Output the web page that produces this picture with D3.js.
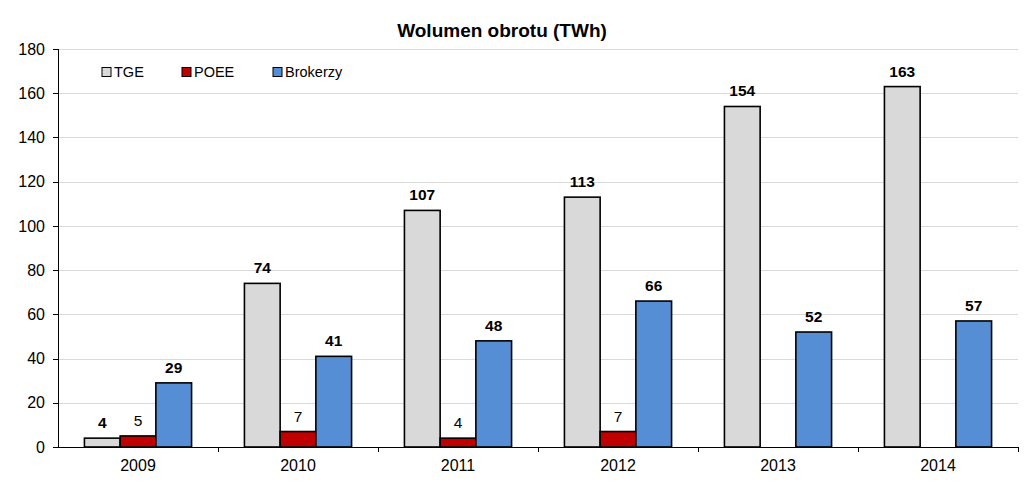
<!DOCTYPE html>
<meta charset="utf-8">
<style>
body{margin:0;background:#fff;}
text{font-family:"Liberation Sans",Arial,sans-serif;}
.grid line{stroke:#d9d9d9;stroke-width:1;}
.axis path,.axis line{stroke:#000;stroke-width:1;shape-rendering:crispEdges;}
.bar{stroke:#000;stroke-width:1.6px;}
.lbl{font-size:15.5px;text-anchor:middle;fill:#000;}
</style>
<body>
<script src="https://d3js.org/d3.v7.min.js"></script>
<script>

var years=["2009","2010","2011","2012","2013","2014"];
var series=["TGE","POEE","Brokerzy"];
var tge=[4,74,107,113,154,163];
var poee=[5,7,4,7,null,null];
var brokerzy=[29,41,48,66,52,57];
var yTicks=[0,20,40,60,80,100,120,140,160,180];
var colors=["#d9d9d9","#c00000","#558ed5"];
var boldLabel=[true,false,true];

var values=[tge,poee,brokerzy];
var W=1024,H=489;
var m={left:58,right:6,top:49,bottom:42};

var svg=d3.select("body").append("svg").attr("width",W).attr("height",H);

var x=d3.scaleBand().domain(years).range([m.left,W-m.right]).padding(0);
var xs=d3.scaleBand().domain(series).range([0,x.bandwidth()]).paddingInner(0).paddingOuter(0.74);
var y=d3.scaleLinear().domain([0,180]).range([H-m.bottom,m.top]);

svg.append("g").attr("class","grid")
  .selectAll("line").data(yTicks.slice(1)).join("line")
  .attr("x1",m.left).attr("x2",W-m.right)
  .attr("y1",d=>Math.round(y(d))+0.5).attr("y2",d=>Math.round(y(d))+0.5);

svg.append("text").attr("x",502).attr("y",37).attr("text-anchor","middle")
  .style("font-size","19px").style("font-weight","bold").text("Wolumen obrotu (TWh)");

var data=[];
years.forEach(function(yr,i){
  series.forEach(function(s,j){
    if(values[j][i]!=null) data.push({year:yr,s:s,j:j,v:values[j][i]});
  });
});

svg.append("g").selectAll("rect").data(data).join("rect").attr("class","bar")
  .attr("x",d=>x(d.year)+xs(d.s))
  .attr("width",xs.bandwidth())
  .attr("y",d=>y(d.v))
  .attr("height",d=>y(0)-y(d.v))
  .attr("fill",d=>colors[d.j]);

svg.append("g").selectAll("text").data(data).join("text").attr("class","lbl")
  .attr("x",d=>x(d.year)+xs(d.s)+xs.bandwidth()/2)
  .attr("y",d=>y(d.v)-10)
  .style("font-weight",d=>boldLabel[d.j]?"bold":"normal")
  .text(d=>d.v);

var ya=svg.append("g").attr("class","axis").attr("transform","translate("+m.left+",0)")
  .call(d3.axisLeft(y).tickValues(yTicks).tickSize(5).tickPadding(8));
ya.attr("font-size",null).attr("font-family",null);
ya.selectAll("text").style("font-size","16px").style("fill","#000");

var xa=svg.append("g").attr("class","axis").attr("transform","translate(0,"+y(0)+")")
  .call(d3.axisBottom(x).tickSize(0).tickPadding(13));
xa.attr("font-size",null).attr("font-family",null);
xa.selectAll("text").style("font-size","16px").style("fill","#000");
xa.selectAll(".tick").append("line").attr("x1",x.bandwidth()/2).attr("x2",x.bandwidth()/2).attr("y2",5);

var leg=svg.append("g").attr("transform","translate(102,72)");
var legX=[0,80,171];
series.forEach(function(s,j){
  var g=leg.append("g").attr("transform","translate("+legX[j]+",0)");
  g.append("rect").attr("x",0).attr("y",-4.5).attr("width",9).attr("height",9)
    .attr("fill",colors[j]).attr("stroke","#000").attr("stroke-width",1);
  g.append("text").attr("x",12).attr("y",5).style("font-size","14.5px").text(s);
});
</script>
</body>
</html>
